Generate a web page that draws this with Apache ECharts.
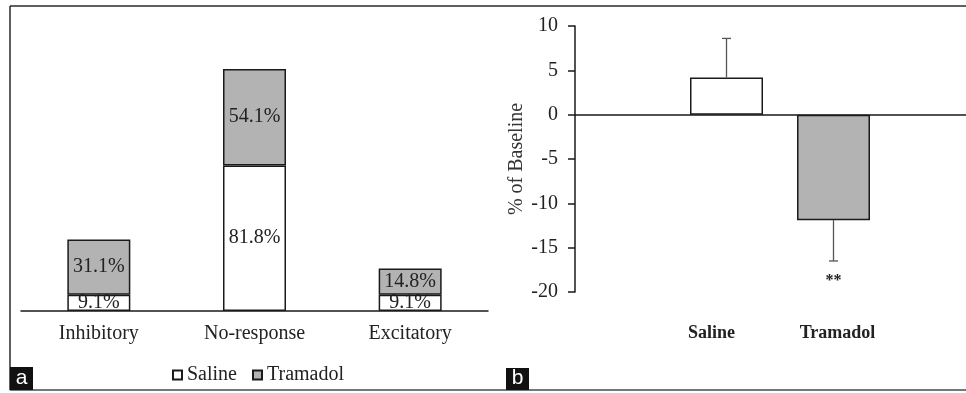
<!DOCTYPE html>
<html>
<head>
<meta charset="utf-8">
<script src="https://cdn.jsdelivr.net/npm/echarts@6/dist/echarts.min.js"></script>
<style>
html,body{margin:0;padding:0;background:#fff;}
#chart{width:966px;height:393px;}
</style>
</head>
<body>
<div id="chart"></div>
<script>
// Panel a data
const categoriesA = ['Inhibitory', 'No-response', 'Excitatory'];
const salineA = [9.1, 81.8, 9.1];
const tramadolA = [31.1, 54.1, 14.8];
const seriesNamesA = ['Saline', 'Tramadol'];

// Panel b data
const groupsB = ['Saline', 'Tramadol'];
const meanB = [4.2, -11.9];
const semB = [4.4, 4.6];
const sigB = ['', '**'];
const yMinB = -20, yMaxB = 10, yStepB = 5;

const SERIF = '"Liberation Serif", "Times New Roman", serif';
const SANS = '"Liberation Sans", Arial, sans-serif';
const GRAY = '#b3b3b3';
const DARK = '#1a1a1a';

const chart = echarts.init(document.getElementById('chart'), null, {renderer: 'canvas'});

const option = {
  animation: false,
  backgroundColor: '#fff',
  textStyle: {fontFamily: SERIF},
  grid: [
    {left: 21, top: 44, width: 467, height: 267},
    {left: 575, top: 26, width: 391, height: 266},
    {left: 673, top: 26, width: 214, height: 266}
  ],
  xAxis: [
    {
      gridIndex: 0, type: 'category', data: categoriesA,
      axisLine: {lineStyle: {color: DARK, width: 1.5}},
      axisTick: {show: false},
      axisLabel: {color: '#222', fontFamily: SERIF, fontSize: 20, margin: 13}
    },
    {
      gridIndex: 1, type: 'category', data: [''],
      axisLine: {onZero: true, lineStyle: {color: DARK, width: 1.5}},
      axisTick: {show: false}, axisLabel: {show: false}
    },
    {
      gridIndex: 2, type: 'category',
      data: groupsB.map((g, i) => ({
        value: g,
        textStyle: {padding: i === 0 ? [0, 30, 0, 0] : [0, 0, 0, 8]}
      })),
      position: 'bottom',
      axisLine: {show: false, onZero: false},
      axisTick: {show: false},
      axisLabel: {color: '#222', fontFamily: SERIF, fontSize: 18, fontWeight: 'bold', margin: 32}
    }
  ],
  yAxis: [
    {gridIndex: 0, type: 'value', min: 0, max: 150, show: false},
    {
      gridIndex: 1, type: 'value', min: yMinB, max: yMaxB, interval: yStepB,
      name: '% of Baseline', nameLocation: 'middle', nameGap: 48,
      nameTextStyle: {color: '#333', fontFamily: SERIF, fontSize: 20},
      axisLine: {show: true, lineStyle: {color: DARK, width: 1.5}},
      axisTick: {show: true, length: 7, lineStyle: {color: DARK, width: 1.5}},
      axisLabel: {color: '#222', fontFamily: SERIF, fontSize: 20, margin: 17},
      splitLine: {show: false}
    },
    {gridIndex: 2, type: 'value', min: yMinB, max: yMaxB, interval: yStepB, show: false}
  ],
  legend: {
    data: seriesNamesA,
    left: 172, top: 365, padding: 0,
    itemWidth: 9, itemHeight: 9, itemGap: 15,
    icon: 'rect',
    textStyle: {color: '#222', fontFamily: SERIF, fontSize: 20}
  },
  series: [
    {
      name: seriesNamesA[0], type: 'bar', stack: 'a', xAxisIndex: 0, yAxisIndex: 0,
      data: salineA, barWidth: 63,
      itemStyle: {color: '#fff', borderColor: DARK, borderWidth: 1.5},
      label: {show: true, position: 'inside', formatter: '{c}%', color: '#222', fontFamily: SERIF, fontSize: 20}
    },
    {
      name: seriesNamesA[1], type: 'bar', stack: 'a', xAxisIndex: 0, yAxisIndex: 0,
      data: tramadolA, barWidth: 63,
      itemStyle: {color: GRAY, borderColor: DARK, borderWidth: 1.5},
      label: {show: true, position: 'inside', formatter: '{c}%', color: '#222', fontFamily: SERIF, fontSize: 20}
    },
    {
      name: 'b-mean', type: 'bar', xAxisIndex: 2, yAxisIndex: 2,
      data: meanB.map((v, i) => ({value: v, itemStyle: {color: i === 0 ? '#fff' : GRAY}})),
      barWidth: 73,
      itemStyle: {borderColor: DARK, borderWidth: 1.5}
    },
    {
      name: 'b-err', type: 'custom', xAxisIndex: 2, yAxisIndex: 2, z: 5,
      data: meanB.map((v, i) => [i, v, semB[i]]),
      renderItem: function (params, api) {
        const x = api.value(0), v = api.value(1), e = api.value(2);
        const dir = v >= 0 ? 1 : -1;
        const p0 = api.coord([x, v]);
        const p1 = api.coord([x, v + dir * e]);
        const style = {stroke: '#555', lineWidth: 1.3};
        const children = [
          {type: 'line', shape: {x1: p0[0], y1: p0[1], x2: p1[0], y2: p1[1]}, style: style},
          {type: 'line', shape: {x1: p1[0] - 4.5, y1: p1[1], x2: p1[0] + 4.5, y2: p1[1]}, style: style}
        ];
        const s = sigB[params.dataIndex];
        if (s) {
          children.push({
            type: 'text',
            style: {
              text: s, x: p1[0], y: p1[1] + (dir < 0 ? 20 : -20),
              align: 'center', verticalAlign: 'middle',
              fill: '#222', font: 'bold 16px ' + SERIF
            }
          });
        }
        return {type: 'group', children: children};
      }
    }
  ],
  graphic: [
    {type: 'line', shape: {x1: 10, y1: 6, x2: 966, y2: 6}, style: {stroke: '#2a2a2a', lineWidth: 1.5}},
    {type: 'line', shape: {x1: 10, y1: 6, x2: 10, y2: 390}, style: {stroke: '#2a2a2a', lineWidth: 1.5}},
    {type: 'line', shape: {x1: 10, y1: 390, x2: 966, y2: 390}, style: {stroke: '#777', lineWidth: 2}},
    {type: 'rect', shape: {x: 10, y: 367, width: 23, height: 23}, style: {fill: '#111'}},
    {type: 'text', style: {text: 'a', x: 21.5, y: 378, align: 'center', verticalAlign: 'middle', fill: '#fff', font: '21px ' + SANS}},
    {type: 'rect', shape: {x: 506, y: 368, width: 23, height: 22}, style: {fill: '#111'}},
    {type: 'text', style: {text: 'b', x: 517.5, y: 378, align: 'center', verticalAlign: 'middle', fill: '#fff', font: '21px ' + SANS}}
  ]
};

chart.setOption(option);
</script>
</body>
</html>
